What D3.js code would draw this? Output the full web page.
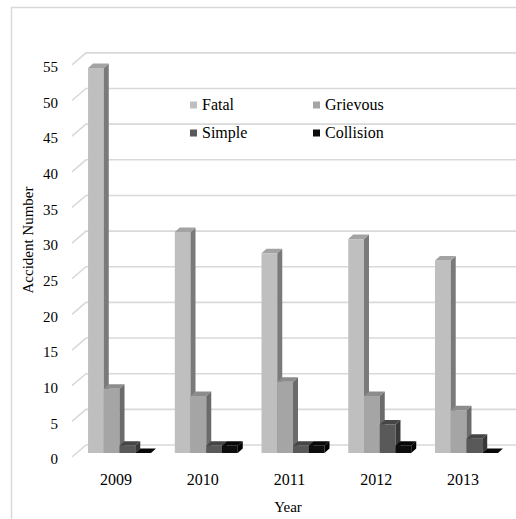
<!DOCTYPE html>
<html>
<head>
<meta charset="utf-8">
<script src="https://cdn.jsdelivr.net/npm/d3@7"></script>
<style>
  html, body { margin: 0; padding: 0; background: #fff; }
  svg { display: block; }
  svg text { font-family: "Liberation Serif", Tinos, "Times New Roman", "DejaVu Serif", serif; fill: #000; }
</style>
</head>
<body>
<svg id="chart" width="516" height="519"></svg>
<script>
// Accident counts per year, by accident type
const years = ["2009", "2010", "2011", "2012", "2013"];
const seriesNames = ["Fatal", "Grievous", "Simple", "Collision"];
const fatal = [54, 31, 28, 30, 27];
const grievous = [9, 8, 10, 8, 6];
const simple = [1, 1, 1, 4, 2];
const collision = [0, 1, 1, 1, 0];
const yTicks = [0, 5, 10, 15, 20, 25, 30, 35, 40, 45, 50, 55];

const seriesValues = [fatal, grievous, simple, collision];

const FONT = '"Liberation Serif", Tinos, "Times New Roman", "DejaVu Serif", serif';

// face colours: front, right side, top
const palette = {
  Fatal:     { front: "#bfbfbf", side: "#7a7a7a", top: "#a3a3a3" },
  Grievous:  { front: "#a5a5a5", side: "#6b6b6b", top: "#8c8c8c" },
  Simple:    { front: "#595959", side: "#383838", top: "#464646" },
  Collision: { front: "#0d0d0d", side: "#000000", top: "#080808" }
};

const svg = d3.select("#chart");

// oblique 3-D layout: front plane, bar plane and back wall are shifted copies
const wallDX = 14, wallDY = -12;   // front plane -> back wall
const barDX = 4.5, barDY = -4;     // front plane -> bar front faces
const depthDX = 5, depthDY = -4.5; // bar thickness in depth

const y = d3.scaleLinear().domain([0, 55]).range([457, 457 - 55 * 7.13]);
const x = d3.scaleBand().domain(years).range([72, 505])
  .paddingInner(0.274).paddingOuter(0.133);
const xs = d3.scaleBand().domain(seriesNames).range([0, x.bandwidth()]).padding(0);

// outer frame
svg.append("rect")
  .attr("x", 11.5).attr("y", 7.5)
  .attr("width", 700).attr("height", 700)
  .attr("fill", "none").attr("stroke", "#d9d9d9").attr("stroke-width", 1.5);

// gridlines: side-wall diagonals plus back-wall horizontals
const grid = svg.append("g").attr("stroke", "#d9d9d9").attr("stroke-width", 1.6).attr("fill", "none");
yTicks.forEach(v => {
  const yf = y(v), yb = y(v) + wallDY;
  grid.append("path")
    .attr("d", `M${72},${yf}L${72 + wallDX},${yb}L${520},${yb}`);
});

// bars, drawn left to right so each bar hides its neighbour's side face
const bars = svg.append("g");
years.forEach((yr, i) => {
  seriesNames.forEach((s, j) => {
    const v = seriesValues[j][i];
    const x0 = x(yr) + xs(s) + barDX;
    const x1 = x0 + xs.bandwidth();
    const yb = y(0) + barDY;
    const yt = y(v) + barDY;
    const c = palette[s];
    if (v > 0) {
      bars.append("rect")
        .attr("x", x0).attr("y", yt)
        .attr("width", x1 - x0).attr("height", yb - yt)
        .attr("fill", c.front);
      bars.append("path")
        .attr("d", `M${x1},${yb}L${x1},${yt}L${x1 + depthDX},${yt + depthDY}L${x1 + depthDX},${yb + depthDY}Z`)
        .attr("fill", c.side);
    }
    bars.append("path")
      .attr("d", `M${x0},${yt}L${x1},${yt}L${x1 + depthDX},${yt + depthDY}L${x0 + depthDX},${yt + depthDY}Z`)
      .attr("fill", c.top);
  });
});

// value axis labels on the front plane
const yAxis = svg.append("g")
  .attr("transform", "translate(58,2)")
  .call(d3.axisLeft(y).tickValues(yTicks).tickSize(0).tickPadding(0));
yAxis.attr("font-family", null);
yAxis.select(".domain").remove();
yAxis.selectAll("text")
  .style("font-family", FONT).style("font-size", "15px").attr("fill", "#000");

// category axis labels
const xAxis = svg.append("g")
  .attr("transform", "translate(1,474)")
  .call(d3.axisBottom(x).tickSize(0).tickPadding(0));
xAxis.attr("font-family", null);
xAxis.select(".domain").remove();
xAxis.selectAll("text")
  .style("font-family", FONT).style("font-size", "16px").attr("fill", "#000");

// axis titles
svg.append("text")
  .attr("transform", "translate(33,240) rotate(-90)")
  .attr("text-anchor", "middle")
  .style("font-family", FONT).style("font-size", "15px")
  .text("Accident Number");

svg.append("text")
  .attr("x", 288).attr("y", 512)
  .attr("text-anchor", "middle")
  .style("font-family", FONT).style("font-size", "15px")
  .text("Year");

// legend, two columns
const legendPos = [
  { x: 190, y: 105 }, { x: 313, y: 105 },
  { x: 190, y: 133 }, { x: 313, y: 133 }
];
const legend = svg.append("g");
seriesNames.forEach((s, j) => {
  const p = legendPos[j];
  legend.append("rect")
    .attr("x", p.x).attr("y", p.y - 3.5)
    .attr("width", 7).attr("height", 7)
    .attr("fill", palette[s].front);
  legend.append("text")
    .attr("x", p.x + 12).attr("y", p.y + 5)
    .style("font-family", FONT).style("font-size", "16px")
    .text(s);
});
</script>
</body>
</html>
